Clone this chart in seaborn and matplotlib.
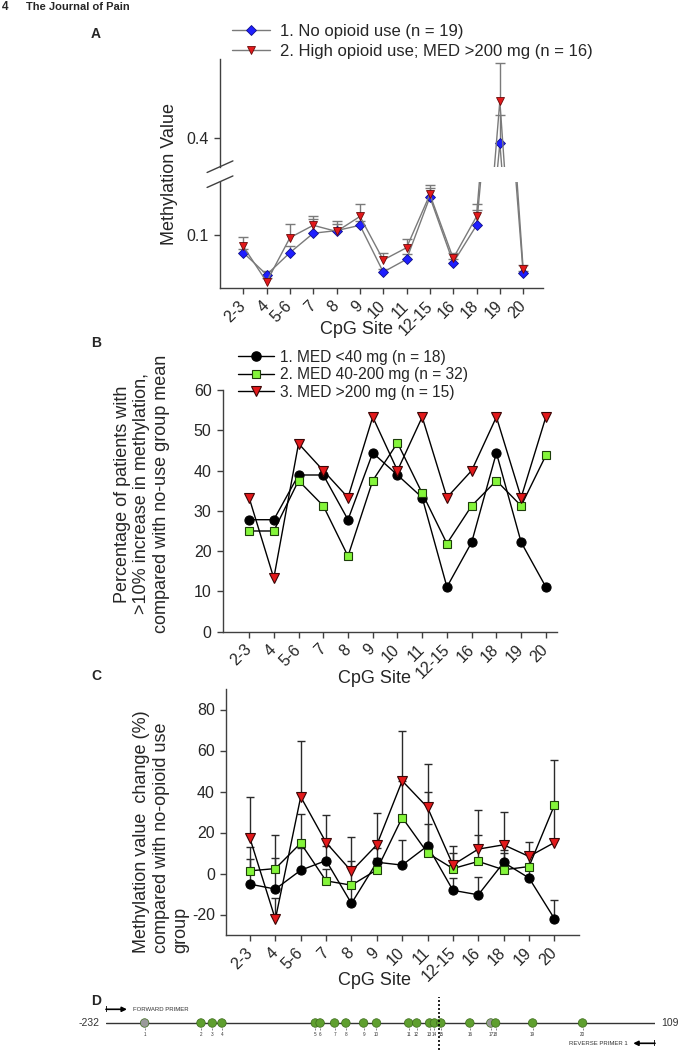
import numpy as np
import matplotlib
matplotlib.use("Agg")
import matplotlib.pyplot as plt
from matplotlib.lines import Line2D
import seaborn as sns

sns.set_theme(style="ticks")
plt.rcParams['font.family'] = ['Liberation Sans', 'DejaVu Sans']
plt.rcParams['axes.unicode_minus'] = False

W, H = 682, 1050

# ------------------------------------------------
# Data
# ------------------------------------------------
sites = ["2-3", "4", "5-6", "7", "8", "9", "10", "11", "12-15", "16", "18", "19", "20"]

# Panel A: methylation value
no_use = [0.080, 0.055, 0.080, 0.102, 0.105, 0.111, 0.058, 0.0725, 0.143, 0.0686, 0.111, 0.394, 0.0566]
no_use_err = [0.004, 0.004, 0.008, 0.016, 0.007, 0.005, 0.004, 0.0065, 0.010, 0.004, 0.017, 0.032, 0.003]
high_use = [0.087, 0.047, 0.097, 0.111, 0.104, 0.121, 0.0717, 0.0856, 0.146, 0.0736, 0.121, 0.4416, 0.061]
high_use_err = [0.011, 0.004, 0.015, 0.010, 0.012, 0.014, 0.008, 0.010, 0.011, 0.006, 0.014, 0.043, 0.005]

# Panel B: % patients with >10% increase
pct_low = [27.8, 27.8, 38.9, 38.9, 27.8, 44.4, 38.9, 33.3, 11.1, 22.2, 44.4, 22.2, 11.1]
pct_mid = [25.0, 25.0, 37.5, 31.25, 18.75, 37.5, 46.875, 34.375, 21.875, 31.25, 37.5, 31.25, 43.75]
pct_high = [33.3, 13.3, 46.7, 40.0, 33.3, 53.3, 40.0, 53.3, 33.3, 40.0, 53.3, 33.3, 53.3]

# Panel C: methylation change (%) vs no-opioid group
chg_low = [-5.2, -7.6, 1.6, 6.3, -14.6, 5.5, 4.1, 13.5, -8.2, -10.4, 5.4, -2.2, -22.0]
chg_low_err = [12.2, 15.1, 11.0, 7.0, 9.0, 7.0, 12.0, 26.3, 5.8, 8.5, 6.0, 5.0, 9.0]
chg_mid = [1.3, 2.4, 14.8, -3.6, -5.7, 1.8, 27.3, 10.0, 2.4, 5.9, 1.8, 3.4, 33.3]
chg_mid_err = [11.4, 16.5, 14.1, 6.0, 11.6, 6.0, 18.0, 14.3, 7.6, 12.8, 8.0, 6.0, 22.0]
chg_high = [17.1, -22.3, 37.4, 15.1, 1.1, 14.0, 45.2, 32.2, 4.2, 11.9, 14.0, 8.3, 15.1]
chg_high_err = [20.0, 10.3, 27.4, 13.4, 16.5, 15.7, 24.1, 21.1, 9.3, 19.0, 16.1, 7.2, 18.0]

# Panel D: CpG map
region_start, region_end = -232, 109
cpg_num = list(range(1, 21))
cpg_pos = [-208, -173, -166, -160, -102, -99, -90, -83, -72, -64,
           -44, -39, -31, -28, -24, -6, 7, 10, 33, 64]
cpg_status = ["no" if n in (1, 17) else "yes" for n in cpg_num]
marker_line_pos = -25

x = np.arange(len(sites))

fig = plt.figure(figsize=(W / 100, H / 100), dpi=100)


def px_axes(x0, y0, x1, y1):
    return fig.add_axes([x0 / W, 1 - y1 / H, (x1 - x0) / W, (y1 - y0) / H])


def upper_err(ax, xs, ys, err, color, cap_px, lw=1.0):
    ys = np.asarray(ys)
    top = ys + np.asarray(err)
    ax.vlines(xs, ys, top, color=color, lw=lw, zorder=2)
    ax.plot(xs, top, ls="none", marker="_", markersize=cap_px * 0.72,
            mew=lw, color=color, zorder=2)


def style_axis(ax, xlim):
    ax.set_xlim(*xlim)
    ax.set_xticks(x)
    ax.set_xticklabels(sites, rotation=45, ha="right", va="center",
                       rotation_mode="anchor", fontsize=11.5)
    ax.tick_params(axis="both", direction="out", length=4, width=1,
                   color="#404040", labelsize=11.5, pad=4)
    ax.tick_params(axis="x", pad=7)
    for s in ["top", "right"]:
        ax.spines[s].set_visible(False)
    for s in ["left", "bottom"]:
        ax.spines[s].set_color("#404040")
        ax.spines[s].set_linewidth(1)
    ax.grid(False)


# ------------------------------------------------
# Panel A (broken y axis)
# ------------------------------------------------
axA_top = px_axes(220, 59.3, 543, 166.7)
axA_bot = px_axes(220, 181.7, 543, 288.3)
gray = "#7a7a7a"
for ax in (axA_top, axA_bot):
    upper_err(ax, x, no_use, no_use_err, gray, 10)
    upper_err(ax, x, high_use, high_use_err, gray, 10)
    sns.lineplot(x=x, y=no_use, ax=ax, color=gray, lw=1, marker="D",
                 markersize=5, markerfacecolor="#1f1fff", markeredgecolor="#10108a",
                 markeredgewidth=0.6, zorder=3)
    sns.lineplot(x=x, y=high_use, ax=ax, color=gray, lw=1, marker="v",
                 markersize=6.2, markerfacecolor="#e3191b", markeredgecolor="#6a0a0a",
                 markeredgewidth=0.6, zorder=3)
    style_axis(ax, (-1, 12.85))

axA_bot.set_ylim(0.0396, 0.1604)
axA_bot.set_yticks([0.1])
axA_bot.set_yticklabels(["0.1"])
axA_top.set_ylim(0.3672, 0.4888)
axA_top.set_yticks([0.4])
axA_top.set_yticklabels(["0.4"])
axA_top.spines["bottom"].set_visible(False)
axA_top.tick_params(axis="x", bottom=False, labelbottom=False)

# break marks on the y axis
d = 0.045
for ax, yy in ((axA_top, 0), (axA_bot, 1)):
    ax.plot([-0.04, 0.04], [yy - d * 1.2, yy + d * 1.2], transform=ax.transAxes,
            color="#404040", lw=1, clip_on=False)

axA_bot.set_xlabel("CpG Site", fontsize=13)
axA_bot.xaxis.set_label_coords(0.424, -0.31)
fig.text(169 / W, 1 - 174 / H, "Methylation Value", rotation=90,
         ha="center", va="center", fontsize=13)

legA = [Line2D([], [], color=gray, lw=1, marker="D", markersize=5,
               markerfacecolor="#1f1fff", markeredgecolor="#10108a", markeredgewidth=0.6),
        Line2D([], [], color=gray, lw=1, marker="v", markersize=6.2,
               markerfacecolor="#e3191b", markeredgecolor="#6a0a0a", markeredgewidth=0.6)]
axA_top.legend(legA, ["1. No opioid use (n = 19)", "2. High opioid use; MED >200 mg (n = 16)"],
               loc="center left", bbox_to_anchor=(231.6 / W, 1 - 41.2 / H),
               bbox_transform=fig.transFigure, frameon=False, fontsize=12,
               handlelength=2.3, handletextpad=0.6, labelspacing=0.3,
               borderpad=0, borderaxespad=0)

# ------------------------------------------------
# Panel B
# ------------------------------------------------
axB = px_axes(222.7, 390, 557, 631.7)
sty_low = dict(marker="o", markersize=6.6, markerfacecolor="black", markeredgecolor="black")
sty_mid = dict(marker="s", markersize=5.8, markerfacecolor="#84f53a", markeredgecolor="#1d3d0a",
               markeredgewidth=0.8)
sty_high = dict(marker="v", markersize=7, markerfacecolor="#e3191b", markeredgecolor="#3a0505",
                markeredgewidth=0.8)

sns.lineplot(x=x, y=pct_low, ax=axB, color="black", lw=1, zorder=3, **sty_low)
sns.lineplot(x=x, y=pct_mid, ax=axB, color="black", lw=1, zorder=3, **sty_mid)
sns.lineplot(x=x, y=pct_high, ax=axB, color="black", lw=1, zorder=3, **sty_high)
style_axis(axB, (-1.066, 12.45))
axB.set_ylim(0, 60)
axB.set_yticks(range(0, 61, 10))
axB.set_xlabel("CpG Site", fontsize=13)
axB.xaxis.set_label_coords((374 - 222.7) / (557 - 222.7), -(670 - 631.7) / (631.7 - 390))
fig.text(142 / W, 1 - 494 / H,
         "Percentage of patients with\n>10% increase in methylation,\ncompared with no-use group mean",
         rotation=90, ha="center", va="center", multialignment="center", fontsize=13)

legB = [Line2D([], [], color="black", lw=1, **sty_low),
        Line2D([], [], color="black", lw=1, **sty_mid),
        Line2D([], [], color="black", lw=1, **sty_high)]
axB.legend(legB, ["1. MED <40 mg (n = 18)", "2. MED 40-200 mg (n = 32)", "3. MED >200 mg (n = 15)"],
           loc="center left", bbox_to_anchor=(238.3 / W, 1 - 374.7 / H),
           bbox_transform=fig.transFigure, frameon=False, fontsize=11.2,
           handlelength=2.3, handletextpad=0.4, labelspacing=0.15,
           borderpad=0, borderaxespad=0)

# ------------------------------------------------
# Panel C
# ------------------------------------------------
axC = px_axes(226, 689, 579, 935)
dark = "#2a2a2a"
upper_err(axC, x, chg_low, chg_low_err, dark, 8)
upper_err(axC, x, chg_mid, chg_mid_err, dark, 8)
upper_err(axC, x, chg_high, chg_high_err, dark, 8)
sns.lineplot(x=x, y=chg_low, ax=axC, color="black", lw=1, zorder=3, **sty_low)
sns.lineplot(x=x, y=chg_mid, ax=axC, color="black", lw=1, zorder=3, **sty_mid)
sns.lineplot(x=x, y=chg_high, ax=axC, color="black", lw=1, zorder=3, **sty_high)
style_axis(axC, (-0.946, 12.97))
axC.set_ylim(-30, 90)
axC.set_yticks(range(-20, 81, 20))
axC.set_xlabel("CpG Site", fontsize=13)
axC.xaxis.set_label_coords((374 - 226) / (579 - 226), -(972 - 935) / (935 - 689))
fig.text(161 / W, 1 - 953 / H,
         "Methylation value  change (%)\ncompared with no-opioid use\ngroup",
         rotation=90, ha="center", va="bottom", multialignment="left", fontsize=13)

# ------------------------------------------------
# Panel D: CpG map
# ------------------------------------------------
axD = px_axes(106, 990, 655, 1050)
axD.set_xlim(region_start, region_end)
axD.set_ylim(-27, 33)
axD.axis("off")
axD.plot([region_start, region_end], [0, 0], color="#333333", lw=1, zorder=1)
sns.scatterplot(x=cpg_pos, y=[0] * len(cpg_pos), hue=cpg_status,
                palette={"yes": "#5f9f2f", "no": "#9a9a9a"}, s=38,
                edgecolor="#3c6a1c", linewidth=0.5, legend=False, ax=axD, zorder=3)
axD.vlines(cpg_pos, -7, -4.5, color="#555555", lw=0.5)
for p, n in zip(cpg_pos, cpg_num):
    axD.text(p, -11, str(n), fontsize=3.3, ha="center", va="center", color="#333333")
axD.vlines(marker_line_pos, -27, 26, color="black", lw=1.2, linestyles=(0, (1.2, 1.2)), zorder=4)

axD.annotate("-232", xy=(region_start, 0), xytext=(-4.5, 0), textcoords="offset points",
             ha="right", va="center", fontsize=7.5, color="#333333")
axD.annotate("109", xy=(region_end, 0), xytext=(4.5, 0), textcoords="offset points",
             ha="left", va="center", fontsize=7.5, color="#333333")

# forward primer
axD.annotate("", xy=(region_start + 13, 13.7), xytext=(region_start, 13.7),
             arrowprops=dict(arrowstyle="-|>", color="black", lw=1.2, mutation_scale=7,
                             shrinkA=0, shrinkB=0))
axD.vlines(region_start, 10.7, 16.7, color="black", lw=1.2)
axD.text(region_start + 17, 13.7, "FORWARD PRIMER", fontsize=4.3, ha="left", va="center",
         color="#333333")
# reverse primer
axD.annotate("", xy=(region_end - 13.5, -20.3), xytext=(region_end, -20.3),
             arrowprops=dict(arrowstyle="-|>", color="black", lw=1.2, mutation_scale=7,
                             shrinkA=0, shrinkB=0))
axD.vlines(region_end, -23.3, -17.3, color="black", lw=1.2)
axD.text(region_end - 17, -20.3, "REVERSE PRIMER 1", fontsize=4.3, ha="right", va="center",
         color="#333333")

# ------------------------------------------------
# Header and panel letters
# ------------------------------------------------
fig.text(2 / W, 1 - 7.5 / H, "4", fontsize=8.5, fontweight="bold", va="center")
fig.text(26 / W, 1 - 7.5 / H, "The Journal of Pain", fontsize=8, fontweight="bold", va="center")
for lab, yy in (("A", 34), ("B", 343), ("C", 676), ("D", 1001)):
    fig.text(96 / W, 1 - yy / H, lab, fontsize=10, fontweight="bold", ha="center", va="center")

fig.savefig("out.png", dpi=100)
